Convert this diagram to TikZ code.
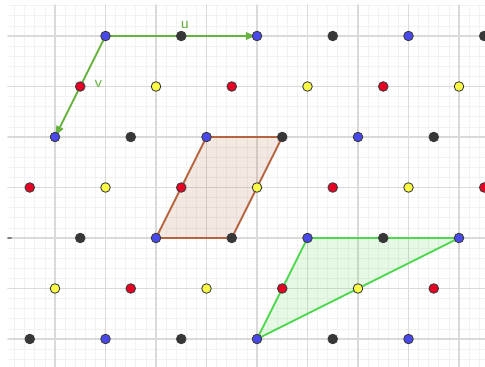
\documentclass[tikz,border=0pt]{standalone}
\usetikzlibrary{arrows.meta}
\definecolor{gridmin}{RGB}{242,242,242}
\definecolor{gridmaj}{RGB}{218,218,218}
\definecolor{ptrim}{RGB}{60,60,60}
\definecolor{ptblue}{RGB}{72,72,235}
\definecolor{ptblack}{RGB}{55,55,55}
\definecolor{ptred}{RGB}{230,0,35}
\definecolor{ptyellow}{RGB}{250,250,70}
\definecolor{vecgreen}{RGB}{104,178,64}
\definecolor{trigreen}{RGB}{80,215,80}
\definecolor{parbrown}{RGB}{180,100,62}
\tikzset{
	pt/.style={circle,draw=ptrim,line width=0.5pt,inner sep=0pt,minimum size=1.9mm,fill=#1},
	vec/.style={->,vecgreen,line width=1.1pt},
}
\begin{document}
\begin{tikzpicture}[>={Latex[length=2.2mm,width=1.7mm]},line join=round,
		line cap=round,font=\sffamily\small]
	\useasboundingbox (-0.089,-0.554) rectangle (9.515,6.713);
	\clip (-0.089,-0.554) rectangle (9.515,6.713);
	% grid
	\draw[gridmin,line width=0.4pt,step=0.2] (0.07,-0.6) grid (9.6,6.61);
	\draw[gridmaj,line width=1.1pt,step=1] (0.07,-0.6) grid (9.6,6.61);
	\draw[gray,line width=1.1pt] (0.07,2)--(0.13,2);
	\coordinate (O) at (2,6);
	\coordinate (U) at (5,6);
	\coordinate (V) at (1,4);
	\coordinate (P1) at (3,2);
	\coordinate (P2) at (4.5,2);
	\coordinate (P3) at (5.5,4);
	\coordinate (P4) at (4,4);
	\coordinate (T1) at (5,0);
	\coordinate (T2) at (9,2);
	\coordinate (T3) at (6,2);
	\filldraw[parbrown,line width=1.1pt,fill=parbrown,fill opacity=0.15] (P1)--(P2)--(P3)--(P4)--cycle;
	\filldraw[trigreen,line width=1.1pt,fill=trigreen,fill opacity=0.15] (T1)--(T2)--(T3)--cycle;
	\draw[vec] (O)--(U);
	\draw[vec] (O)--(V);
	\node[vecgreen] (lu) at (3.57,6.22) {u};
	\node[vecgreen] (lv) at (1.86,5.05) {v};
	% lattice points
	\foreach \y/\xs/\n/\ca/\cb in {6/2/5/ptblue/ptblack,5/1.5/5/ptred/ptyellow,
			4/1/5/ptblue/ptblack,3/0.5/6/ptred/ptyellow,2/1.5/5/ptblack/ptblue,
			1/1/5/ptyellow/ptred,0/0.5/5/ptblack/ptblue}
		\foreach \k in {0,...,\n}{
			\pgfmathsetmacro\xx{\xs+1.5*\k}
			\ifodd\k \def\cc{\cb}\else \def\cc{\ca}\fi
			\node[pt=\cc] (p\y-\k) at (\xx,\y) {};
		}
\end{tikzpicture}
\end{document}
